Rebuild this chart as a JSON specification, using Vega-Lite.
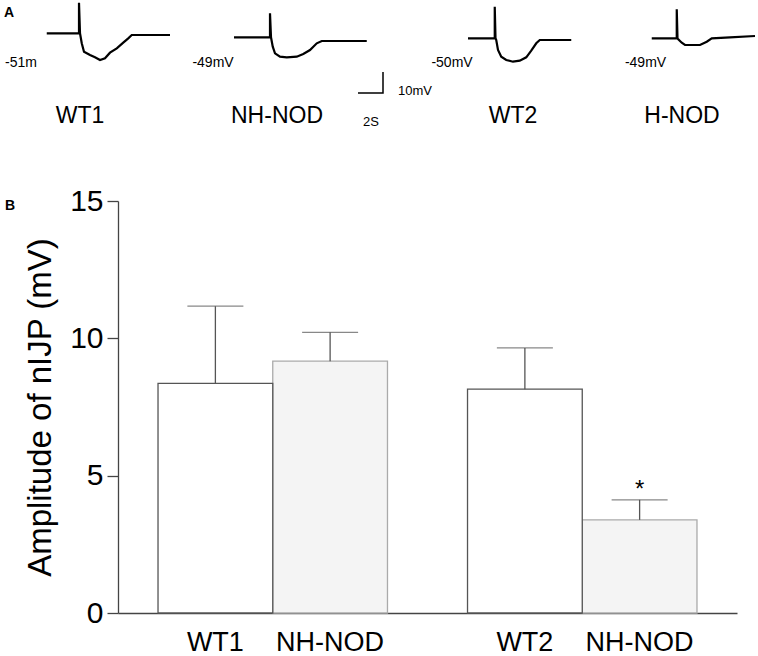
{
  "$schema": "https://vega.github.io/schema/vega-lite/v6.json",
  "width": 619,
  "height": 412,
  "autosize": {"type": "none"},
  "padding": {"left": 118, "top": 201, "right": 21, "bottom": 43},
  "background": "white",
  "config": {"view": {"stroke": null}, "font": "Liberation Sans"},
  "datasets": {
    "bars": [
      {"experiment": "1", "genotype": "NOD", "label": "NH-NOD", "mean": 9.17, "upper": 10.22},
      {"experiment": "2", "genotype": "NOD", "label": "NH-NOD", "mean": 3.39, "upper": 4.12, "sig": "*"},
      {"experiment": "1", "genotype": "WT", "label": "WT1", "mean": 8.36, "upper": 11.17},
      {"experiment": "2", "genotype": "WT", "label": "WT2", "mean": 8.15, "upper": 9.65}
    ],
    "traces": [
      {"trace": "WT1", "i": 0, "t": 3.74, "v": 1.29},
      {"trace": "WT1", "i": 1, "t": 6.32, "v": 1.29},
      {"trace": "WT1", "i": 2, "t": 6.32, "v": 15.86},
      {"trace": "WT1", "i": 3, "t": 6.4, "v": 1.29},
      {"trace": "WT1", "i": 4, "t": 6.54, "v": -3.48},
      {"trace": "WT1", "i": 5, "t": 6.72, "v": -7.48},
      {"trace": "WT1", "i": 6, "t": 7.2, "v": -9.05},
      {"trace": "WT1", "i": 7, "t": 7.6, "v": -10.14},
      {"trace": "WT1", "i": 8, "t": 8.0, "v": -11.43},
      {"trace": "WT1", "i": 9, "t": 8.4, "v": -10.62},
      {"trace": "WT1", "i": 10, "t": 8.8, "v": -7.95},
      {"trace": "WT1", "i": 11, "t": 9.34, "v": -5.86},
      {"trace": "WT1", "i": 12, "t": 9.86, "v": -3.19},
      {"trace": "WT1", "i": 13, "t": 10.26, "v": -1.1},
      {"trace": "WT1", "i": 14, "t": 10.54, "v": 0.48},
      {"trace": "WT1", "i": 15, "t": 13.6, "v": 0.48},
      {"trace": "NH-NOD", "i": 0, "t": 18.72, "v": -0.62},
      {"trace": "NH-NOD", "i": 1, "t": 21.6, "v": -0.62},
      {"trace": "NH-NOD", "i": 2, "t": 21.6, "v": 10.81},
      {"trace": "NH-NOD", "i": 3, "t": 21.68, "v": -0.62},
      {"trace": "NH-NOD", "i": 4, "t": 21.82, "v": -5.1},
      {"trace": "NH-NOD", "i": 5, "t": 22.0, "v": -8.24},
      {"trace": "NH-NOD", "i": 6, "t": 22.4, "v": -9.86},
      {"trace": "NH-NOD", "i": 7, "t": 22.94, "v": -10.14},
      {"trace": "NH-NOD", "i": 8, "t": 23.74, "v": -9.86},
      {"trace": "NH-NOD", "i": 9, "t": 24.26, "v": -8.57},
      {"trace": "NH-NOD", "i": 10, "t": 24.8, "v": -6.67},
      {"trace": "NH-NOD", "i": 11, "t": 25.34, "v": -3.48},
      {"trace": "NH-NOD", "i": 12, "t": 25.74, "v": -2.38},
      {"trace": "NH-NOD", "i": 13, "t": 29.34, "v": -2.38},
      {"trace": "WT2", "i": 0, "t": 37.44, "v": -1.1},
      {"trace": "WT2", "i": 1, "t": 39.58, "v": -1.1},
      {"trace": "WT2", "i": 2, "t": 39.58, "v": 13.95},
      {"trace": "WT2", "i": 3, "t": 39.64, "v": -1.1},
      {"trace": "WT2", "i": 4, "t": 39.7, "v": -1.9},
      {"trace": "WT2", "i": 5, "t": 39.84, "v": -6.67},
      {"trace": "WT2", "i": 6, "t": 40.1, "v": -9.86},
      {"trace": "WT2", "i": 7, "t": 40.5, "v": -11.43},
      {"trace": "WT2", "i": 8, "t": 41.04, "v": -12.24},
      {"trace": "WT2", "i": 9, "t": 41.58, "v": -11.76},
      {"trace": "WT2", "i": 10, "t": 42.1, "v": -10.14},
      {"trace": "WT2", "i": 11, "t": 42.5, "v": -7.0},
      {"trace": "WT2", "i": 12, "t": 42.9, "v": -3.48},
      {"trace": "WT2", "i": 13, "t": 43.18, "v": -1.9},
      {"trace": "WT2", "i": 14, "t": 45.7, "v": -1.9},
      {"trace": "H-NOD", "i": 0, "t": 52.14, "v": -1.1},
      {"trace": "H-NOD", "i": 1, "t": 54.14, "v": -1.1},
      {"trace": "H-NOD", "i": 2, "t": 54.14, "v": 12.71},
      {"trace": "H-NOD", "i": 3, "t": 54.2, "v": -1.1},
      {"trace": "H-NOD", "i": 4, "t": 54.26, "v": -1.57},
      {"trace": "H-NOD", "i": 5, "t": 54.54, "v": -3.19},
      {"trace": "H-NOD", "i": 6, "t": 54.8, "v": -4.29},
      {"trace": "H-NOD", "i": 7, "t": 56.0, "v": -4.29},
      {"trace": "H-NOD", "i": 8, "t": 56.54, "v": -2.71},
      {"trace": "H-NOD", "i": 9, "t": 56.94, "v": -1.1},
      {"trace": "H-NOD", "i": 10, "t": 58.4, "v": -0.62},
      {"trace": "H-NOD", "i": 11, "t": 60.4, "v": 0.0}
    ],
    "scalebar": [
      {"i": 0, "t": 28.64, "v": -27.14},
      {"i": 1, "t": 30.64, "v": -27.14},
      {"i": 2, "t": 30.64, "v": -17.14}
    ],
    "notes": [
      {"role": "panel", "text": "A", "t": 0.72, "v": 10.95},
      {"role": "panel", "text": "B", "t": 0.8, "v": -80.95},
      {"role": "name", "text": "WT1", "t": 6.4, "v": -38.1},
      {"role": "name", "text": "NH-NOD", "t": 22.16, "v": -38.1},
      {"role": "name", "text": "WT2", "t": 41.04, "v": -38.1},
      {"role": "name", "text": "H-NOD", "t": 54.56, "v": -38.1},
      {"role": "rest", "text": "-51m", "t": 1.68, "v": -12.86},
      {"role": "rest", "text": "-49mV", "t": 17.04, "v": -12.86},
      {"role": "rest", "text": "-50mV", "t": 36.16, "v": -12.86},
      {"role": "rest", "text": "-49mV", "t": 51.64, "v": -12.86},
      {"role": "scale", "text": "2S", "t": 29.04, "v": -40.95},
      {"role": "scale", "text": "10mV", "t": 31.84, "v": -26.19}
    ]
  },
  "layer": [
    {
      "data": {"name": "bars"},
      "encoding": {
        "x": {
          "field": "experiment",
          "type": "nominal",
          "scale": {"paddingInner": 0.2586, "paddingOuter": 0.1293},
          "axis": {"labels": false, "ticks": false, "title": null, "domainColor": "#444", "domainWidth": 1.3}
        },
        "xOffset": {
          "field": "genotype",
          "type": "nominal",
          "sort": ["WT", "NOD"],
          "scale": {"domain": ["WT", "NOD"], "paddingInner": 0, "paddingOuter": 0}
        }
      },
      "layer": [
        {
          "mark": {"type": "bar", "strokeWidth": 1.3},
          "encoding": {
            "y": {
              "field": "mean",
              "type": "quantitative",
              "scale": {"domain": [0, 15], "nice": false},
              "axis": {
                "values": [0, 5, 10, 15],
                "grid": false,
                "tickSize": 11,
                "tickColor": "#444",
                "tickWidth": 1.3,
                "domainColor": "#444",
                "domainWidth": 1.3,
                "labelFontSize": 30,
                "labelColor": "black",
                "labelPadding": 4,
                "title": "Amplitude of nIJP (mV)",
                "titleFontSize": 33,
                "titleFontWeight": "normal",
                "titleColor": "black",
                "titlePadding": 12
              }
            },
            "fill": {"field": "genotype", "type": "nominal", "scale": {"domain": ["WT", "NOD"], "range": ["white", "#f4f4f4"]}, "legend": null},
            "stroke": {"field": "genotype", "type": "nominal", "scale": {"domain": ["WT", "NOD"], "range": ["#555", "#aaa"]}, "legend": null}
          }
        },
        {
          "mark": {"type": "rule", "color": "#555", "strokeWidth": 1.3},
          "encoding": {
            "y": {"field": "mean", "type": "quantitative"},
            "y2": {"field": "upper"}
          }
        },
        {
          "mark": {"type": "tick", "color": "#555", "size": 56, "thickness": 1.3},
          "encoding": {
            "y": {"field": "upper", "type": "quantitative"}
          }
        },
        {
          "transform": [{"filter": "datum.sig"}],
          "mark": {"type": "text", "fontSize": 24, "dy": -3, "baseline": "alphabetic", "color": "black"},
          "encoding": {
            "y": {"field": "upper", "type": "quantitative"},
            "text": {"field": "sig"}
          }
        },
        {
          "mark": {"type": "text", "fontSize": 27, "dy": 30, "baseline": "middle", "color": "black"},
          "encoding": {
            "y": {"datum": 0},
            "text": {"field": "label"}
          }
        }
      ]
    },
    {
      "encoding": {
        "x": {"field": "t", "type": "quantitative", "scale": {"domain": [9.44, 58.96], "nice": false, "zero": false}, "axis": null},
        "y": {"field": "v", "type": "quantitative", "scale": {"domain": [-274.76, -78.57], "nice": false, "zero": false}, "axis": null}
      },
      "layer": [
        {
          "data": {"name": "traces"},
          "mark": {"type": "line", "color": "black", "strokeWidth": 2.2},
          "encoding": {
            "detail": {"field": "trace"},
            "order": {"field": "i"}
          }
        },
        {
          "data": {"name": "scalebar"},
          "mark": {"type": "line", "color": "black", "strokeWidth": 1.5},
          "encoding": {
            "order": {"field": "i"}
          }
        },
        {
          "data": {"name": "notes"},
          "transform": [{"filter": "datum.role == 'name'"}],
          "mark": {"type": "text", "fontSize": 23, "baseline": "middle", "align": "center", "color": "black"},
          "encoding": {"text": {"field": "text"}}
        },
        {
          "data": {"name": "notes"},
          "transform": [{"filter": "datum.role == 'rest'"}],
          "mark": {"type": "text", "fontSize": 14, "baseline": "middle", "align": "center", "color": "black"},
          "encoding": {"text": {"field": "text"}}
        },
        {
          "data": {"name": "notes"},
          "transform": [{"filter": "datum.role == 'scale'"}],
          "mark": {"type": "text", "fontSize": 13, "baseline": "middle", "align": "left", "color": "black"},
          "encoding": {"text": {"field": "text"}}
        },
        {
          "data": {"name": "notes"},
          "transform": [{"filter": "datum.role == 'panel'"}],
          "mark": {"type": "text", "fontSize": 14, "fontWeight": "bold", "baseline": "middle", "align": "center", "color": "black"},
          "encoding": {"text": {"field": "text"}}
        }
      ]
    }
  ],
  "resolve": {
    "scale": {"x": "independent", "y": "independent"},
    "axis": {"x": "independent", "y": "independent"}
  }
}
